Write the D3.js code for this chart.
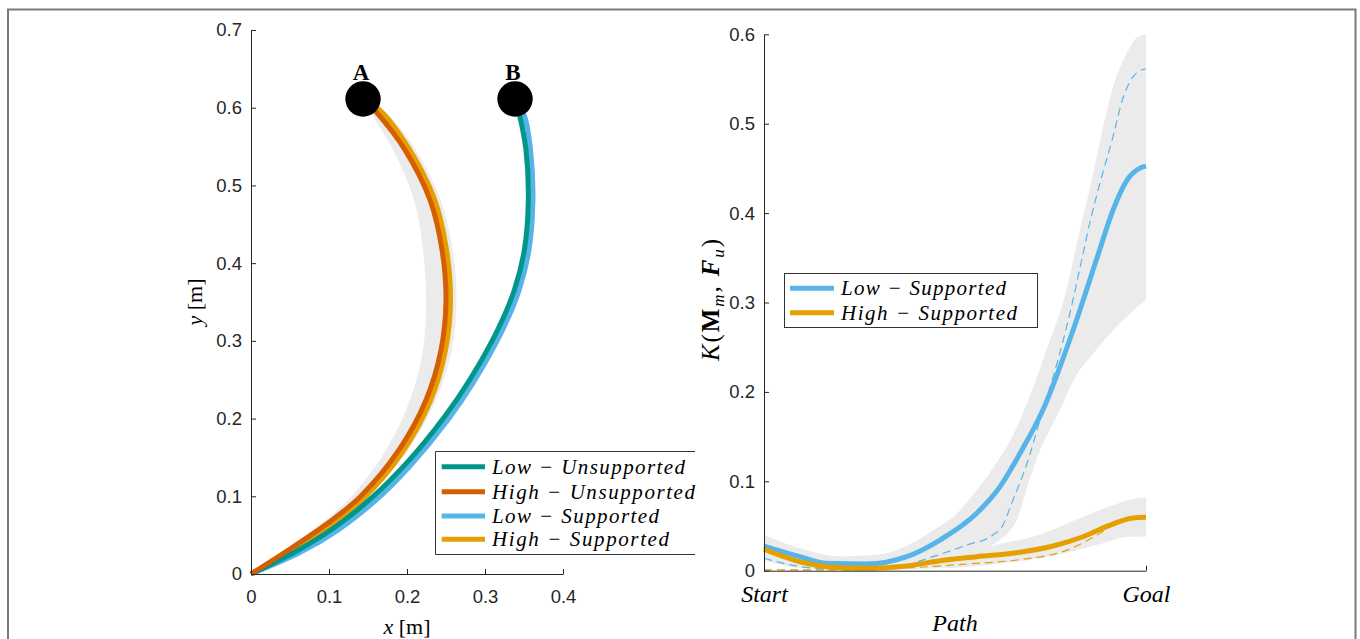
<!DOCTYPE html>
<html>
<head>
<meta charset="utf-8">
<script src="https://cdn.jsdelivr.net/npm/d3@7"></script>
<style>
  html, body { margin: 0; padding: 0; background: #fff; }
  svg { display: block; }
  .num text { font-family: "Liberation Sans", Arial, sans-serif; fill: #262626; }
  .math { font-family: "Liberation Serif", "Times New Roman", serif; fill: #000; }
</style>
</head>
<body>
<svg id="chart" width="1360" height="639"></svg>
<script>
// ---------------- DATA ----------------
// Left panel: trajectories [x (m), y (m)]
const startA = [0.1436, 0.6113];
const startB = [0.3385, 0.6113];
const pointLabels = ["A", "B"];

const lowUnsupported = [[0.3385,0.6113],[0.3449,0.5882],[0.3526,0.5457],[0.3556,0.4813],[0.3505,0.417],[0.3377,0.3655],[0.3162,0.314],[0.2803,0.2497],[0.2479,0.2021],[0.1996,0.1429],[0.156,0.0991],[0.1079,0.0605],[0.0608,0.0309],[0,0]];
const lowSupported = [[0.3385,0.6113],[0.3505,0.5894],[0.3583,0.5463],[0.3614,0.4813],[0.3562,0.4161],[0.3432,0.3637],[0.3213,0.3115],[0.2851,0.2466],[0.2526,0.1986],[0.2038,0.139],[0.1599,0.0947],[0.1109,0.0562],[0.0627,0.0275],[0,0]];
const highUnsupported = [[0.1436,0.6113],[0.1615,0.5933],[0.1974,0.5457],[0.2295,0.4813],[0.2449,0.417],[0.25,0.3526],[0.2436,0.2883],[0.2244,0.2239],[0.1897,0.1596],[0.1397,0.0991],[0.0987,0.0656],[0.0538,0.0347],[0,0]];
const highSupported = [[0.1436,0.6113],[0.1656,0.5964],[0.2021,0.548],[0.2351,0.4826],[0.2506,0.4175],[0.2558,0.3526],[0.2492,0.2871],[0.2297,0.2218],[0.194,0.1566],[0.1429,0.0959],[0.101,0.0625],[0.0553,0.0326],[0,0]];

// gray trial envelopes (left panel)
const bandAInner = [[0.1436,0.6113],[0.1538,0.5933],[0.1821,0.5457],[0.209,0.4813],[0.2205,0.417],[0.2244,0.3526],[0.2205,0.2883],[0.2038,0.2239],[0.1731,0.1596],[0.1282,0.0991],[0.091,0.0656],[0.05,0.0347],[0,0]];
const bandAOuter = [[0.1436,0.6113],[0.1705,0.5964],[0.2097,0.548],[0.2428,0.4826],[0.2583,0.4175],[0.2635,0.3526],[0.257,0.2871],[0.2362,0.2218],[0.1991,0.1566],[0.1468,0.0959],[0.1036,0.0625],[0.0565,0.0326],[0,0]];
const bandBInner = [[0.3385,0.6113],[0.341,0.5882],[0.3487,0.5457],[0.3518,0.4813],[0.3467,0.417],[0.3338,0.3655],[0.3123,0.314],[0.2764,0.2497],[0.2441,0.2021],[0.1958,0.1429],[0.1522,0.0991],[0.1041,0.0605],[0.057,0.0309],[0,0]];
const bandBOuter = [[0.3385,0.6113],[0.3537,0.5894],[0.3615,0.5463],[0.3646,0.4813],[0.3594,0.4161],[0.3464,0.3637],[0.3245,0.3115],[0.2883,0.2466],[0.2558,0.1986],[0.207,0.139],[0.1631,0.0947],[0.1141,0.0562],[0.0646,0.0275],[0,0]];

const legendLeft = ["Low − Unsupported", "High − Unsupported", "Low − Supported", "High − Supported"];
const xTicksLeft = [0, 0.1, 0.2, 0.3, 0.4];
const yTicksLeft = [0, 0.1, 0.2, 0.3, 0.4, 0.5, 0.6, 0.7];

// Right panel: K along path (t = 0 Start ... 1 Goal)
const lowMeanT = [0,0.0942,0.1641,0.2689,0.3736,0.4607,0.5568,0.6178,0.6702,0.7304,0.8089,0.8717,0.9136,0.9503,0.9843,1];
const lowMeanK = [0.0276,0.0157,0.0083,0.0075,0.0157,0.0343,0.0642,0.094,0.1313,0.18,0.2688,0.3497,0.4034,0.4369,0.4503,0.4525];
const lowTrialT = [0,0.0942,0.1728,0.2775,0.356,0.4424,0.5306,0.5995,0.623,0.6518,0.6885,0.7225,0.767,0.801,0.8272,0.8534,0.8796,0.9136,0.9398,0.966,0.9921,1];
const lowTrialK = [0.0139,0.0045,0.0019,0.0008,0.0045,0.0157,0.0287,0.0399,0.0492,0.0791,0.1201,0.1686,0.232,0.2883,0.3386,0.3901,0.4337,0.4855,0.5288,0.5523,0.5606,0.5612];
const highMeanT = [0,0.094,0.164,0.269,0.374,0.461,0.557,0.662,0.757,0.835,0.906,0.966,1];
const highMeanK = [0.024,0.010,0.0045,0.0027,0.0053,0.0112,0.0157,0.0201,0.0276,0.038,0.051,0.059,0.0597];
const highTrialT = [0,0.1,0.2,0.356,0.531,0.662,0.793,0.880,0.906,0.95,1];
const highTrialK = [0.001,0.001,0.001,0.0027,0.0075,0.012,0.023,0.042,0.049,0.056,0.0597];

const lowBandUpT = [0,0.094,0.2,0.3,0.374,0.442,0.5,0.547,0.6,0.65,0.7,0.75,0.783,0.827,0.858,0.887,0.914,0.95,0.975,1];
const lowBandUpK = [0.040,0.025,0.016,0.018,0.028,0.045,0.062,0.085,0.115,0.15,0.2,0.26,0.3,0.381,0.437,0.495,0.541,0.579,0.596,0.60];
const lowBandLoT = [0,0.094,0.22,0.4,0.487,0.592,0.662,0.69,0.723,0.775,0.81,0.862,0.914,0.967,1];
const lowBandLoK = [0.015,0.006,0.003,0.003,0.008,0.027,0.057,0.095,0.135,0.18,0.213,0.243,0.269,0.291,0.303];
const highBandUpT = [0,0.094,0.225,0.356,0.487,0.618,0.704,0.835,0.906,0.976,1];
const highBandUpK = [0.035,0.02,0.01,0.009,0.016,0.03,0.038,0.06,0.072,0.081,0.082];
const highBandLoT = [0,0.094,0.225,0.487,0.618,0.749,0.880,0.958,1];
const highBandLoK = [0.012,0.003,0.001,0.003,0.008,0.016,0.03,0.038,0.038];

const legendRight = ["Low − Supported", "High − Supported"];
const yTicksRight = [0, 0.1, 0.2, 0.3, 0.4, 0.5, 0.6];
const pathTickLabels = ["Start", "Goal"];

// ---------------- STYLE ----------------
const C = { teal: "#00968a", red: "#d55e00", blue: "#56b4e9", orange: "#e69f00", band: "#ebebeb", axis: "#262626" };

const svg = d3.select("#chart");

// outer frame
svg.append("rect").attr("x", 8).attr("y", 9.5).attr("width", 1347.5).attr("height", 660)
  .attr("fill", "none").attr("stroke", "#7a7a7a").attr("stroke-width", 2);

// ---------------- LEFT PANEL ----------------
const xL = d3.scaleLinear().domain([0, 0.4]).range([251, 563]);
const yL = d3.scaleLinear().domain([0, 0.7]).range([574, 30]);
const lineL = d3.line().x(d => xL(d[0])).y(d => yL(d[1])).curve(d3.curveCatmullRom.alpha(0.5));

function bandPath(line, a, b) {
  return line(a) + line(b.slice().reverse()).replace(/^M/, "L") + "Z";
}
const gL = svg.append("g");
gL.append("path").attr("d", bandPath(lineL, bandAInner, bandAOuter)).attr("fill", C.band);
gL.append("path").attr("d", bandPath(lineL, bandBInner, bandBOuter)).attr("fill", C.band);

const leftSeries = [
  { data: lowSupported, color: C.blue },
  { data: highSupported, color: C.orange },
  { data: lowUnsupported, color: C.teal },
  { data: highUnsupported, color: C.red }
];
leftSeries.forEach(s => {
  gL.append("path").attr("d", lineL(s.data)).attr("fill", "none")
    .attr("stroke", s.color).attr("stroke-width", 5).attr("stroke-linecap", "butt");
});

[startA, startB].forEach((p, i) => {
  gL.append("circle").attr("cx", xL(p[0])).attr("cy", yL(p[1])).attr("r", 17.7).attr("fill", "#000");
  gL.append("text").attr("x", xL(p[0]) - 2).attr("y", yL(p[1]) - 19)
    .attr("text-anchor", "middle").attr("class", "math")
    .attr("font-weight", "bold").attr("font-size", 23).text(pointLabels[i]);
});

// axes
const axL = svg.append("g").attr("class", "num").attr("transform", "translate(251,0)")
  .call(d3.axisLeft(yL).tickValues(yTicksLeft).tickSize(-5).tickSizeOuter(0).tickPadding(9)
    .tickFormat(d => d === 0 ? "0" : d3.format(".1f")(d)));
const axB = svg.append("g").attr("class", "num").attr("transform", "translate(0,574)")
  .call(d3.axisBottom(xL).tickValues(xTicksLeft).tickSize(-5).tickSizeOuter(0).tickPadding(16)
    .tickFormat(d => d === 0 ? "0" : d3.format(".1f")(d)));
[axL, axB].forEach(a => {
  a.selectAll(".domain,line").attr("stroke", C.axis);
  a.selectAll("text").attr("font-size", 18.5).attr("fill", C.axis);
});

// axis labels
svg.append("text").attr("class", "math").attr("x", 407).attr("y", 634).attr("text-anchor", "middle")
  .attr("font-size", 22)
  .call(t => { t.append("tspan").attr("font-style", "italic").text("x"); t.append("tspan").text(" [m]"); });
svg.append("text").attr("class", "math").attr("transform", "translate(202,302) rotate(-90)").attr("text-anchor", "middle")
  .attr("font-size", 22)
  .call(t => { t.append("tspan").attr("font-style", "italic").text("y"); t.append("tspan").text(" [m]"); });

// left legend
const lgL = svg.append("g");
lgL.append("rect").attr("x", 435.5).attr("y", 451.5).attr("width", 260).attr("height", 103).attr("fill", "#fff");
lgL.append("path").attr("d", "M695,451.5H435.5V554.5H695").attr("fill", "none").attr("stroke", "#333").attr("stroke-width", 1);
const legendLeftColors = [C.teal, C.red, C.blue, C.orange];
const legendLeftY = [466.7, 491.7, 516, 539.3];
const legendLeftW = [193, 203, 167, 177];
legendLeft.forEach((name, i) => {
  lgL.append("line").attr("x1", 441.7).attr("x2", 485).attr("y1", legendLeftY[i]).attr("y2", legendLeftY[i])
    .attr("stroke", legendLeftColors[i]).attr("stroke-width", 5);
  lgL.append("text").attr("class", "math").attr("x", 492).attr("y", legendLeftY[i] + 7)
    .attr("font-size", 21).attr("font-style", "italic")
    .attr("textLength", legendLeftW[i]).attr("lengthAdjust", "spacing").text(name);
});

// ---------------- RIGHT PANEL ----------------
const xR = d3.scaleLinear().domain([0, 1]).range([764, 1146]);
const yR = d3.scaleLinear().domain([0, 0.6]).range([570.7, 34.3]);
const zip = (t, k) => t.map((v, i) => [v, k[i]]);
const lineR = d3.line().x(d => xR(d[0])).y(d => yR(d[1])).curve(d3.curveMonotoneX);
const gR = svg.append("g");

gR.append("path").attr("d", bandPath(lineR, zip(lowBandUpT, lowBandUpK), zip(lowBandLoT, lowBandLoK))).attr("fill", C.band);
gR.append("path").attr("d", bandPath(lineR, zip(highBandUpT, highBandUpK), zip(highBandLoT, highBandLoK))).attr("fill", C.band);

gR.append("path").attr("d", lineR(zip(lowTrialT, lowTrialK))).attr("fill", "none")
  .attr("stroke", C.blue).attr("stroke-width", 1.2).attr("stroke-dasharray", "8,5");
gR.append("path").attr("d", lineR(zip(highTrialT, highTrialK))).attr("fill", "none")
  .attr("stroke", C.orange).attr("stroke-width", 1.2).attr("stroke-dasharray", "8,5");
gR.append("path").attr("d", lineR(zip(lowMeanT, lowMeanK))).attr("fill", "none")
  .attr("stroke", C.blue).attr("stroke-width", 5);
gR.append("path").attr("d", lineR(zip(highMeanT, highMeanK))).attr("fill", "none")
  .attr("stroke", C.orange).attr("stroke-width", 5);

const axRL = svg.append("g").attr("class", "num").attr("transform", "translate(764,0)")
  .call(d3.axisLeft(yR).tickValues(yTicksRight).tickSize(-5).tickSizeOuter(0).tickPadding(9)
    .tickFormat(d => d === 0 ? "0" : d3.format(".1f")(d)));
const axRB = svg.append("g").attr("transform", "translate(0,570.7)")
  .call(d3.axisBottom(xR).tickValues([0, 1]).tickSize(-5).tickSizeOuter(0).tickPadding(14)
    .tickFormat((d, i) => pathTickLabels[i]));
[axRL, axRB].forEach(a => {
  a.selectAll(".domain,line").attr("stroke", C.axis);
  a.selectAll("text").attr("font-size", 18.5).attr("fill", C.axis);
});
axRB.selectAll("text")
  .style("font-family", "'Liberation Serif', 'Times New Roman', serif").style("font-style", "italic")
  .style("font-size", "24px").style("fill", "#000");

svg.append("text").attr("class", "math").attr("x", 955).attr("y", 631).attr("text-anchor", "middle")
  .attr("font-size", 24).attr("font-style", "italic").text("Path");

// K(M_m, F_u) label
const kl = svg.append("text").attr("class", "math").attr("transform", "translate(719,300) rotate(-90)")
  .attr("text-anchor", "middle").attr("font-size", 25)
  .attr("textLength", 122).attr("lengthAdjust", "spacing");
kl.append("tspan").attr("font-style", "italic").text("K");
kl.append("tspan").text("(");
kl.append("tspan").attr("font-weight", "bold").text("M");
kl.append("tspan").attr("font-style", "italic").attr("font-size", 17).attr("dy", 5).text("m");
kl.append("tspan").attr("dy", -5).text(", ");
kl.append("tspan").attr("font-weight", "bold").attr("font-style", "italic").text("F");
kl.append("tspan").attr("font-style", "italic").attr("font-size", 17).attr("dy", 5).text("u");
kl.append("tspan").attr("dy", -5).text(")");

// right legend
const lgR = svg.append("g");
lgR.append("rect").attr("x", 784.5).attr("y", 273.5).attr("width", 253).attr("height", 54)
  .attr("fill", "#fff").attr("stroke", "#333").attr("stroke-width", 1);
const legendRightColors = [C.blue, C.orange];
const legendRightY = [288.3, 312.7];
const legendRightW = [165, 176];
legendRight.forEach((name, i) => {
  lgR.append("line").attr("x1", 790).attr("x2", 834).attr("y1", legendRightY[i]).attr("y2", legendRightY[i])
    .attr("stroke", legendRightColors[i]).attr("stroke-width", 5);
  lgR.append("text").attr("class", "math").attr("x", 841).attr("y", legendRightY[i] + 7)
    .attr("font-size", 21).attr("font-style", "italic")
    .attr("textLength", legendRightW[i]).attr("lengthAdjust", "spacing").text(name);
});
</script>
</body>
</html>
